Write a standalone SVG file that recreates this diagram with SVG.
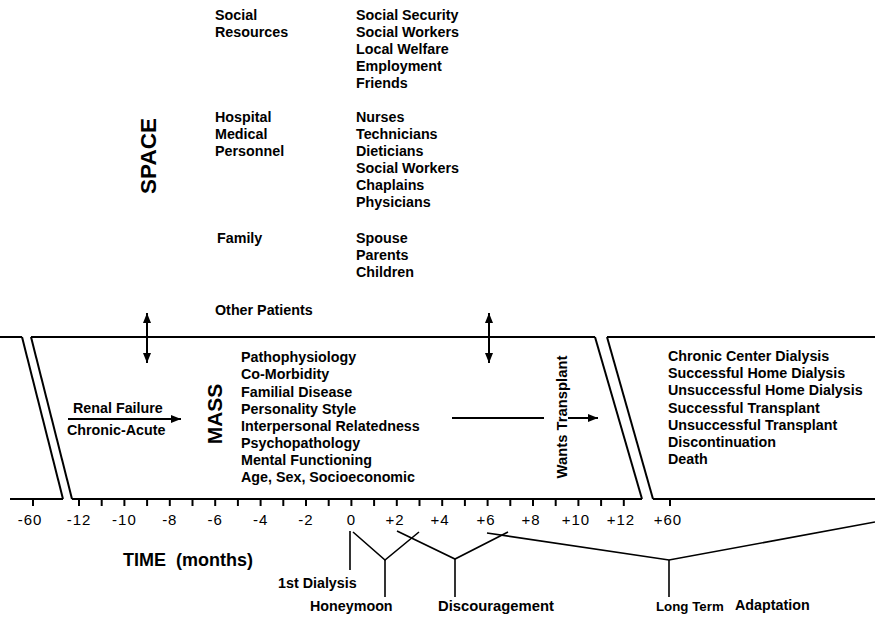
<svg xmlns="http://www.w3.org/2000/svg" width="875" height="618" viewBox="0 0 875 618">
<style>
  .t { font-family: "Liberation Sans", Arial, sans-serif; font-weight: bold; font-size: 14.3px; fill: #000; }
  .big { font-family: "Liberation Sans", Arial, sans-serif; font-weight: bold; font-size: 21px; fill: #000; }
  .ax { font-family: "Liberation Sans", Arial, sans-serif; font-size: 15px; fill: #000; text-anchor: middle; letter-spacing: 1px; }
  .ln { stroke: #000; stroke-width: 2; fill: none; }
  .thin { stroke: #000; stroke-width: 1.6; fill: none; }
</style>
<defs>
  <marker id="ah" viewBox="0 0 10 8" refX="10" refY="4" markerWidth="10" markerHeight="8" markerUnits="userSpaceOnUse" orient="auto-start-reverse">
    <path d="M0,0 L10,4 L0,8 Z" fill="#000"/>
  </marker>
</defs>
<rect width="875" height="618" fill="#fff"/>

<g id="frame" class="ln">
  <line x1="0" y1="337" x2="22" y2="337"/>
  <line x1="22" y1="337" x2="63" y2="499"/>
  <line x1="10" y1="499" x2="63" y2="499"/>
  <line x1="31" y1="337" x2="72" y2="499"/>
  <line x1="31" y1="337" x2="595" y2="337"/>
  <line x1="72" y1="499" x2="642" y2="499"/>
  <line x1="595" y1="337" x2="642" y2="499"/>
  <line x1="607" y1="337" x2="653" y2="499"/>
  <line x1="607" y1="337" x2="875" y2="337"/>
  <line x1="653" y1="499" x2="875" y2="499"/>
</g>

<g id="ticks" class="ln">
  <line x1="33" y1="499" x2="33" y2="506"/>
  <line x1="79" y1="499" x2="79" y2="506"/>
  <line x1="101.7" y1="499" x2="101.7" y2="506"/>
  <line x1="124.4" y1="499" x2="124.4" y2="506"/>
  <line x1="147.1" y1="499" x2="147.1" y2="506"/>
  <line x1="169.8" y1="499" x2="169.8" y2="506"/>
  <line x1="192.5" y1="499" x2="192.5" y2="506"/>
  <line x1="215.2" y1="499" x2="215.2" y2="506"/>
  <line x1="237.9" y1="499" x2="237.9" y2="506"/>
  <line x1="260.6" y1="499" x2="260.6" y2="506"/>
  <line x1="283.3" y1="499" x2="283.3" y2="506"/>
  <line x1="306" y1="499" x2="306" y2="506"/>
  <line x1="328.7" y1="499" x2="328.7" y2="506"/>
  <line x1="351.4" y1="499" x2="351.4" y2="506"/>
  <line x1="374.1" y1="499" x2="374.1" y2="506"/>
  <line x1="396.8" y1="499" x2="396.8" y2="506"/>
  <line x1="419.5" y1="499" x2="419.5" y2="506"/>
  <line x1="442.2" y1="499" x2="442.2" y2="506"/>
  <line x1="464.9" y1="499" x2="464.9" y2="506"/>
  <line x1="487.6" y1="499" x2="487.6" y2="506"/>
  <line x1="510.3" y1="499" x2="510.3" y2="506"/>
  <line x1="533" y1="499" x2="533" y2="506"/>
  <line x1="555.7" y1="499" x2="555.7" y2="506"/>
  <line x1="578.4" y1="499" x2="578.4" y2="506"/>
  <line x1="601.1" y1="499" x2="601.1" y2="506"/>
  <line x1="623.8" y1="499" x2="623.8" y2="506"/>
  <line x1="670" y1="499" x2="670" y2="506"/>
</g>

<g id="axis-labels">
  <text class="ax" x="30" y="525">-60</text>
  <text class="ax" x="79" y="525">-12</text>
  <text class="ax" x="124.4" y="525">-10</text>
  <text class="ax" x="169.8" y="525">-8</text>
  <text class="ax" x="215.2" y="525">-6</text>
  <text class="ax" x="260.6" y="525">-4</text>
  <text class="ax" x="306" y="525">-2</text>
  <text class="ax" x="351.4" y="525">0</text>
  <text class="ax" x="395" y="525">+2</text>
  <text class="ax" x="440" y="525">+4</text>
  <text class="ax" x="486" y="525">+6</text>
  <text class="ax" x="531" y="525">+8</text>
  <text class="ax" x="576" y="525">+10</text>
  <text class="ax" x="621" y="525">+12</text>
  <text class="ax" x="668" y="525">+60</text>
  <text class="t" x="123" y="566" style="font-size:18px" xml:space="preserve">TIME  (months)</text>
</g>

<g id="space">
  <text class="big" transform="translate(156,156) rotate(-90)" text-anchor="middle" style="font-size:22.5px">SPACE</text>
  <g id="social">
    <text class="t" x="215" y="20">Social</text>
    <text class="t" x="215" y="37">Resources</text>
    <text class="t" x="356" y="20">Social Security</text>
    <text class="t" x="356" y="37">Social Workers</text>
    <text class="t" x="356" y="54">Local Welfare</text>
    <text class="t" x="356" y="71">Employment</text>
    <text class="t" x="356" y="88">Friends</text>
  </g>
  <g id="hospital">
    <text class="t" x="215" y="122">Hospital</text>
    <text class="t" x="215" y="139">Medical</text>
    <text class="t" x="215" y="156">Personnel</text>
    <text class="t" x="356" y="122">Nurses</text>
    <text class="t" x="356" y="139">Technicians</text>
    <text class="t" x="356" y="156">Dieticians</text>
    <text class="t" x="356" y="173">Social Workers</text>
    <text class="t" x="356" y="190">Chaplains</text>
    <text class="t" x="356" y="207">Physicians</text>
  </g>
  <g id="family">
    <text class="t" x="217" y="243">Family</text>
    <text class="t" x="356" y="243">Spouse</text>
    <text class="t" x="356" y="260">Parents</text>
    <text class="t" x="356" y="277">Children</text>
  </g>
  <g id="other">
    <text class="t" x="215" y="315">Other Patients</text>
  </g>
</g>

<g id="mass">
  <text class="big" transform="translate(222,414) rotate(-90)" text-anchor="middle">MASS</text>
  <text class="t" x="241" y="362">Pathophysiology</text>
  <text class="t" x="241" y="379">Co-Morbidity</text>
  <text class="t" x="241" y="397">Familial Disease</text>
  <text class="t" x="241" y="414">Personality Style</text>
  <text class="t" x="241" y="431">Interpersonal Relatedness</text>
  <text class="t" x="241" y="448">Psychopathology</text>
  <text class="t" x="241" y="465">Mental Functioning</text>
  <text class="t" x="241" y="482">Age, Sex, Socioeconomic</text>
</g>

<g id="renal">
  <text class="t" x="73" y="413">Renal Failure</text>
  <text class="t" x="67" y="435">Chronic-Acute</text>
</g>

<g id="transplant">
  <text class="t" transform="translate(567,417) rotate(-90)" text-anchor="middle" style="font-size:14.8px">Wants Transplant</text>
</g>

<g id="outcomes">
  <text class="t" x="668" y="361">Chronic Center Dialysis</text>
  <text class="t" x="668" y="378">Successful Home Dialysis</text>
  <text class="t" x="668" y="395">Unsuccessful Home Dialysis</text>
  <text class="t" x="668" y="413">Successful Transplant</text>
  <text class="t" x="668" y="430">Unsuccessful Transplant</text>
  <text class="t" x="668" y="447">Discontinuation</text>
  <text class="t" x="668" y="464">Death</text>
</g>

<g id="phases">
  <text class="t" x="278" y="588">1st Dialysis</text>
  <text class="t" x="310" y="611">Honeymoon</text>
  <text class="t" x="438" y="611" style="font-size:14.8px">Discouragement</text>
  <text class="t" x="656" y="611" style="font-size:13.3px">Long Term</text>
  <text class="t" x="735" y="610">Adaptation</text>
</g>

<g id="connectors">
  <line class="ln" x1="147" y1="313" x2="147" y2="363" marker-start="url(#ah)" marker-end="url(#ah)"/>
  <line class="ln" x1="489" y1="313" x2="489" y2="363" marker-start="url(#ah)" marker-end="url(#ah)"/>
  <line class="ln" x1="68" y1="419" x2="181" y2="419" marker-end="url(#ah)"/>
  <line class="ln" x1="452" y1="418" x2="544" y2="418"/>
  <line class="ln" x1="568" y1="418" x2="598" y2="418" marker-end="url(#ah)"/>
  <g class="thin">
    <line x1="350" y1="531" x2="350" y2="570"/>
    <polyline points="353,532 385,560 419,532"/>
    <line x1="385" y1="560" x2="385" y2="597"/>
    <polyline points="397,531 455,559 508,532"/>
    <line x1="455" y1="559" x2="455" y2="597"/>
    <polyline points="487,533 669,560 875,522"/>
    <line x1="669" y1="560" x2="669" y2="597"/>
  </g>
</g>
</svg>
